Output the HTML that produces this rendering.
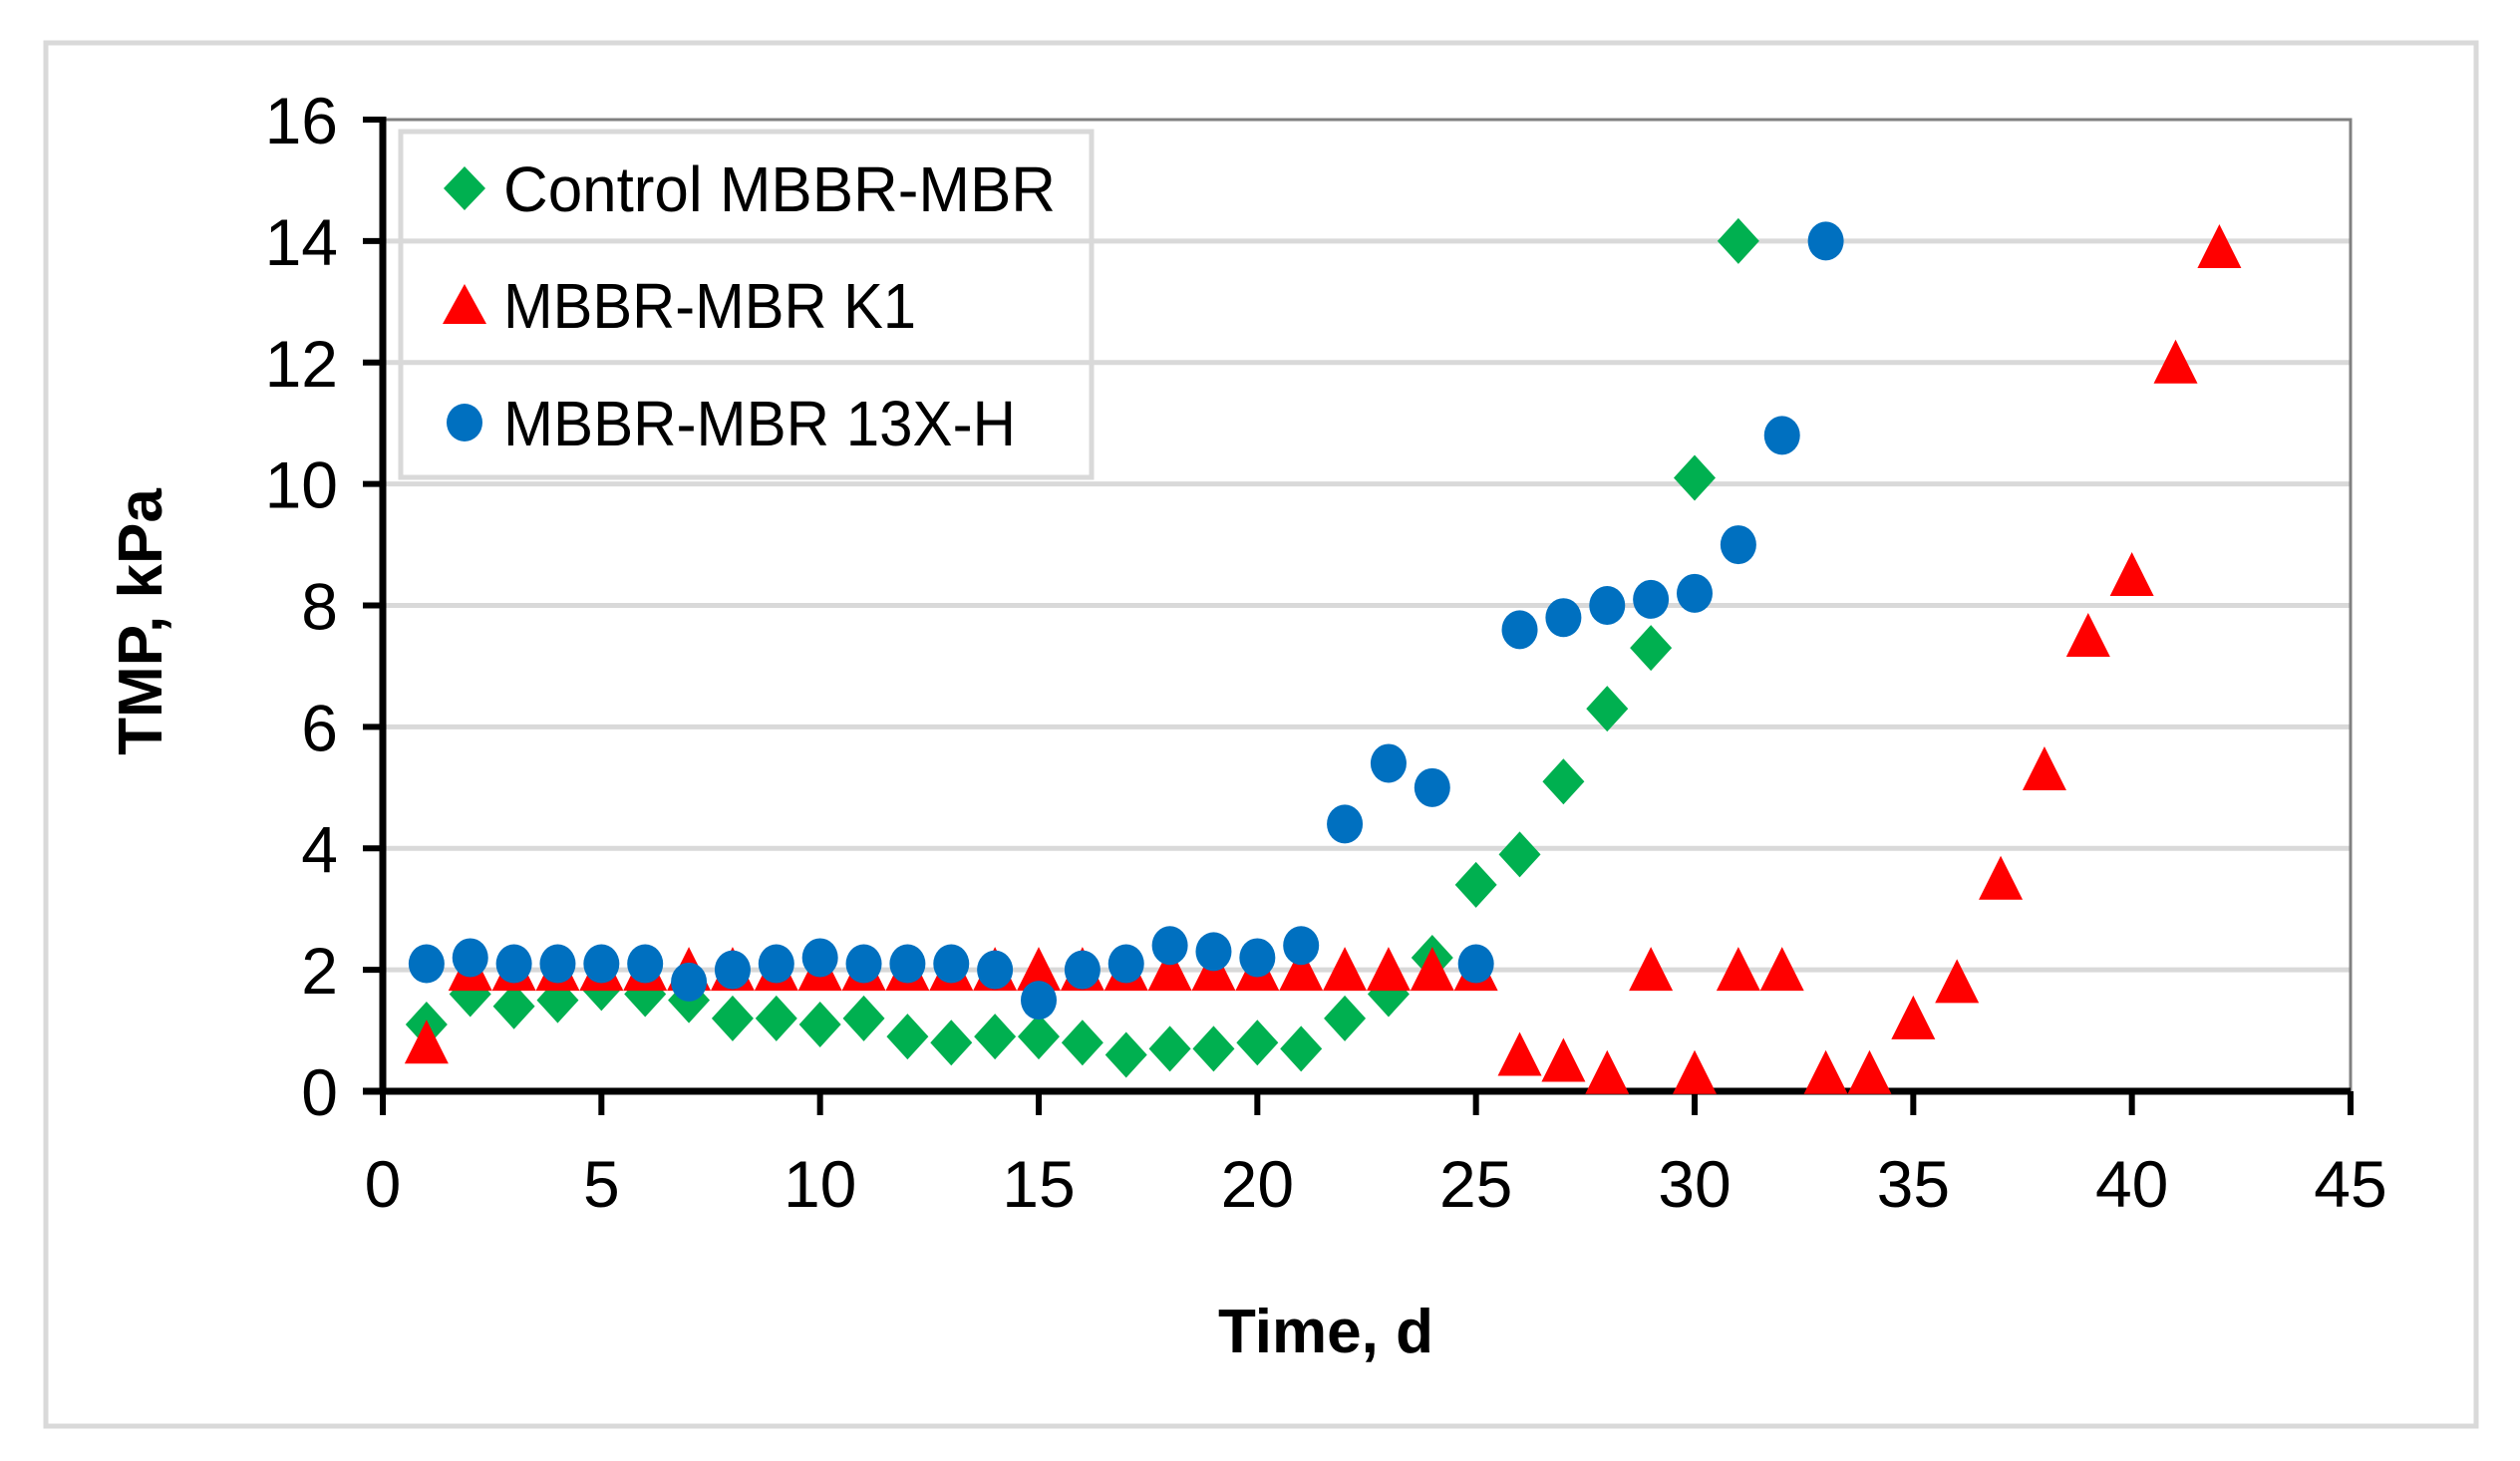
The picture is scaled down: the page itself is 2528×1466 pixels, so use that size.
<!DOCTYPE html>
<html><head><meta charset="utf-8"><style>
html,body{margin:0;padding:0;background:#fff;}
svg{display:block;font-family:"Liberation Sans",sans-serif;}
</style></head><body>
<svg id="chart" width="2528" height="1466" viewBox="0 0 2528 1466">
<rect x="46" y="43" width="2438" height="1388" fill="#fff" stroke="#d9d9d9" stroke-width="5"/>
<g id="grid"></g>
<g id="axes"></g>
<g id="marks"></g>
<g>
<rect x="402" y="132" width="693" height="347" fill="none" stroke="#d9d9d9" stroke-width="5"/>
<g>
<polygon points="466,167 487,189 466,211 445,189" fill="#00b050"/>
<text x="505" y="212" font-size="64" fill="#000" textLength="554" lengthAdjust="spacingAndGlyphs">Control MBBR-MBR</text></g>
<g>
<polygon points="466,285 488,325 444,325" fill="#ff0000"/>
<text x="505" y="329" font-size="64" fill="#000" textLength="414" lengthAdjust="spacingAndGlyphs">MBBR-MBR K1</text></g>
<g>
<ellipse cx="466" cy="424" rx="18" ry="19" fill="#0070c0"/>
<text x="505" y="447" font-size="64" fill="#000" textLength="514" lengthAdjust="spacingAndGlyphs">MBBR-MBR 13X-H</text></g>
</g>
<text x="1330" y="1357" font-size="62" font-weight="bold" text-anchor="middle">Time, d</text>
<text transform="translate(162,624) rotate(-90)" font-size="62" font-weight="bold" text-anchor="middle">TMP, kPa</text>
</svg>
<script>
const xTicks=[0,5,10,15,20,25,30,35,40,45];
const yTicks=[0,2,4,6,8,10,12,14,16];
const controlDays=[1,2,3,4,5,6,7,8,9,10,11,12,13,14,15,16,17,18,19,20,21,22,23,24,25,26,27,28,29,30,31];
const controlTMP=[1.1,1.6,1.4,1.5,1.7,1.6,1.5,1.2,1.2,1.1,1.2,0.9,0.8,0.9,0.9,0.8,0.6,0.7,0.7,0.8,0.7,1.2,1.6,2.2,3.4,3.9,5.1,6.3,7.3,10.1,14.0];
const k1Days=[1,2,3,4,5,6,7,8,9,10,11,12,13,14,15,16,17,18,19,20,21,22,23,24,25,26,27,28,29,30,31,32,33,34,35,36,37,38,39,40,41,42];
const k1TMP=[0.8,2.0,2.0,2.0,2.0,2.0,2.0,2.0,2.0,2.0,2.0,2.0,2.0,2.0,2.0,2.0,2.0,2.0,2.0,2.0,2.0,2.0,2.0,2.0,2.0,0.6,0.5,0.3,2.0,0.3,2.0,2.0,0.3,0.3,1.2,1.8,3.5,5.3,7.5,8.5,12.0,13.9];
const hDays=[1,2,3,4,5,6,7,8,9,10,11,12,13,14,15,16,17,18,19,20,21,22,23,24,25,26,27,28,29,30,31,32,33];
const hTMP=[2.1,2.2,2.1,2.1,2.1,2.1,1.8,2.0,2.1,2.2,2.1,2.1,2.1,2.0,1.5,2.0,2.1,2.4,2.3,2.2,2.4,4.4,5.4,5.0,2.1,7.6,7.8,8.0,8.1,8.2,9.0,10.8,14.0];

const NS='http://www.w3.org/2000/svg';
const X0=384,X1=2358,Y0=1095,Y1=120;
const xs=v=>X0+(v-0)/45*(X1-X0);
const ys=v=>Y0-(v-0)/16*(Y0-Y1);
function mk(tag,attrs,parent){const e=document.createElementNS(NS,tag);for(const k in attrs)e.setAttribute(k,attrs[k]);parent.appendChild(e);return e;}
const gridG=document.getElementById('grid'),axesG=document.getElementById('axes'),marksG=document.getElementById('marks');

yTicks.forEach(t=>{
  if(t>0&&t<16){const g=mk('line',{x1:X0,x2:X1,y1:ys(t),y2:ys(t),stroke:'#d9d9d9','stroke-width':5},gridG);
  
  }
  const tk=mk('line',{x1:X0-20,x2:X0,y1:ys(t),y2:ys(t),stroke:'#000','stroke-width':6},axesG);
  
  
  const lb=mk('text',{x:X0-45,y:ys(t)+24,'font-size':66,'text-anchor':'end'},axesG);
  lb.textContent=t;
  
  
});
xTicks.forEach(t=>{
  const tk=mk('line',{x1:xs(t),x2:xs(t),y1:Y0,y2:Y0+24,stroke:'#000','stroke-width':6},axesG);
  
  
  const lb=mk('text',{x:xs(t),y:Y0+116,'font-size':66,'text-anchor':'middle'},axesG);
  lb.textContent=t;
  
  
});
const frameLine=mk('polyline',{points:`${X0},${Y1} ${X1},${Y1} ${X1},${Y0}`,fill:'none',stroke:'#808080','stroke-width':3},axesG);


const yAxisLine=mk('line',{x1:X0,x2:X0,y1:Y1-3,y2:Y0+3,stroke:'#000','stroke-width':7},axesG);


const xAxisLine=mk('line',{x1:X0-20,x2:X1,y1:Y0,y2:Y0,stroke:'#000','stroke-width':7},axesG);



controlDays.forEach((d,i)=>{const x=xs(d),y=ys(controlTMP[i]);
  const p=mk('polygon',{points:`${x},${y-23} ${x+21},${y} ${x},${y+23} ${x-21},${y}`,fill:'#00b050'},marksG);
  
  });
k1Days.forEach((d,i)=>{const x=xs(d),y=ys(k1TMP[i]);
  const p=mk('polygon',{points:`${x},${y-23} ${x+22},${y+21} ${x-22},${y+21}`,fill:'#ff0000'},marksG);
  
  });
hDays.forEach((d,i)=>{const x=xs(d),y=ys(hTMP[i]);
  const p=mk('ellipse',{cx:x,cy:y,rx:18,ry:19.5,fill:'#0070c0'},marksG);
  
  });
</script>
</body></html>
